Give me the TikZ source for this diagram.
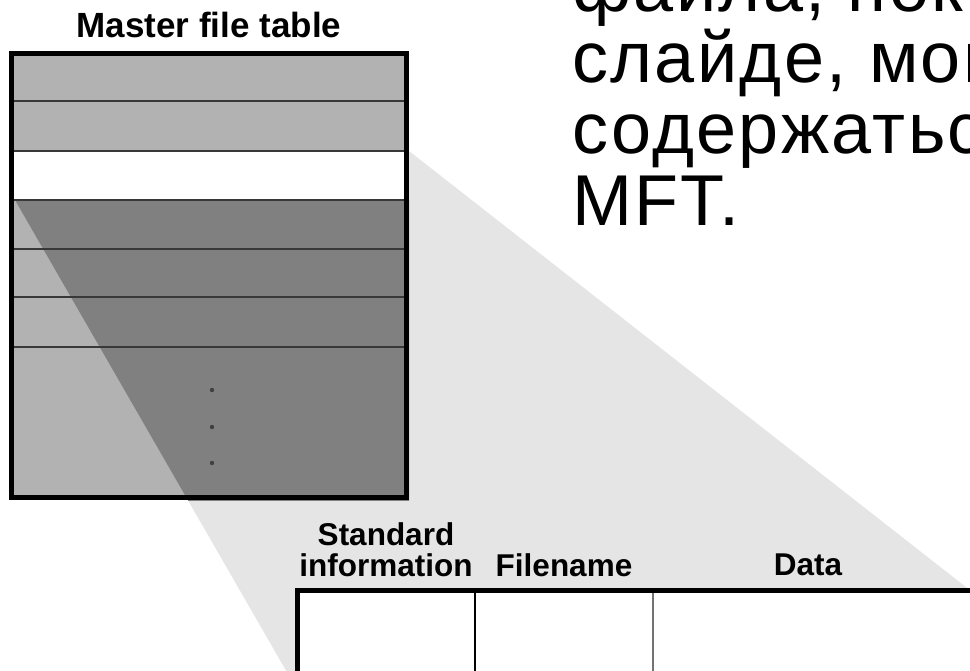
\documentclass[tikz,border=0pt]{standalone}
\usepackage{fontspec}
\setmainfont{Liberation Sans}
\newfontfamily\slidefont[LetterSpace=3.3]{Liberation Sans}
\definecolor{projgray}{gray}{0.9}
\definecolor{rowgray}{gray}{0.70}
\definecolor{projdark}{gray}{0.50}
\definecolor{seplinegray}{gray}{0.22}
\definecolor{divgray}{gray}{0.45}
\tikzset{
  heavyframe/.style={line width=5pt, draw=black},
  rowsep/.style={line width=1.8pt, draw=seplinegray},
  labeltext/.style={inner sep=0pt, anchor=base, font=\bfseries\fontsize{31.5}{33}\selectfont},
  slidetext/.style={inner sep=0pt, anchor=base west, font=\slidefont\fontsize{72}{80}\selectfont},
}
\begin{document}
\begin{tikzpicture}[x=1pt, y=-1pt]
\useasboundingbox (0,0) rectangle (970,670);
\clip (0,0) rectangle (970,670);
\fill[white] (0,0) rectangle (970,670);

% fan projecting one MFT entry onto the record layout below
\def\fanpath{(15,200) -- (409,151) -- (985,602) -- (985,700) -- (303,700) -- cycle}
\fill[projgray] \fanpath;

% slide text in the upper right
\node[slidetext] (l1) at (572,11)  {файла, пока};
\node[slidetext] (l2) at (572,82)  {слайде, мог};
\node[slidetext] (l3) at (572,153) {содержатьс};
\node[slidetext] (l4) at (572,225) {MFT.};

% master file table
\node[inner sep=0pt, anchor=base, font=\bfseries\fontsize{35}{40}\selectfont] (title) at (209,37) {Master file table};
\fill[rowgray] (9,51) rectangle (409,500);
\begin{scope}
  \clip (9,200) rectangle (409,500);
  \fill[projdark] \fanpath;
\end{scope}
\fill[white] (9,151) rectangle (409,200);
\foreach \yy in {101,151,200,249,297,347}
  \draw[rowsep] (9,\yy) -- (409,\yy);
\draw[heavyframe] (11.5,53.5) rectangle (406.5,497.5);
\foreach \yy in {390,427,463}
  \fill[black!75] (212,\yy) circle (2.2);

% one file record: attribute layout
\node[labeltext] (std1) at (386,545) {Standard};
\node[labeltext] (std2) at (386,576) {information};
\node[labeltext] (fname) at (564,576) {Filename};
\node[labeltext] (data) at (808,575) {Data};
\draw[heavyframe, fill=white] (297.5,590.5) rectangle (1000,720);
\draw[line width=1.5pt] (475,593) -- (475,672);
\draw[line width=2pt, divgray] (653,593) -- (653,672);
\end{tikzpicture}
\end{document}
